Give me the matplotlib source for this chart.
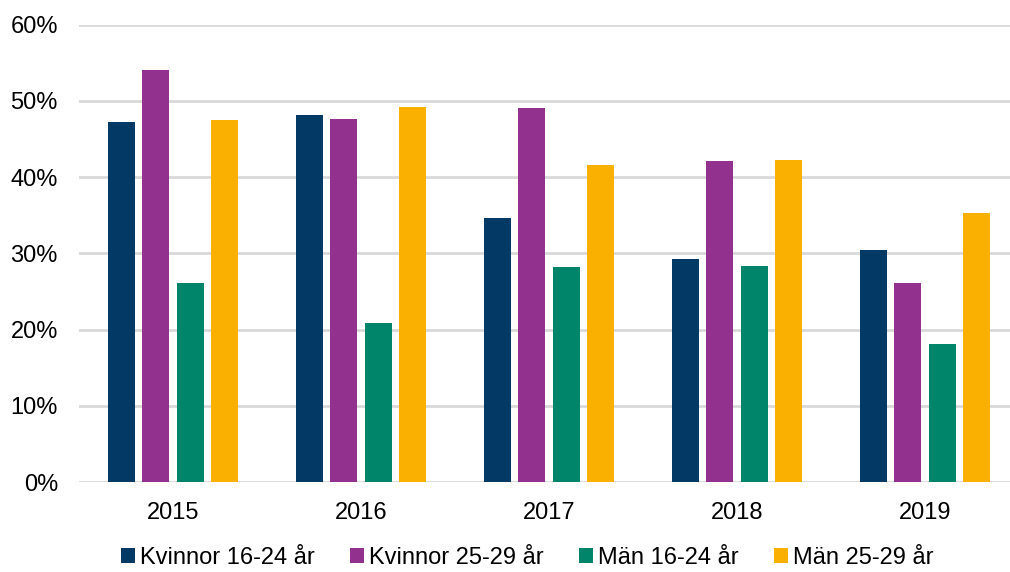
import numpy as np
from matplotlib import pyplot as plt
from matplotlib.ticker import PercentFormatter

plt.rcParams['font.family'] = ['Liberation Sans', 'DejaVu Sans']

years = ['2015', '2016', '2017', '2018', '2019']
series = ['Kvinnor 16-24 år', 'Kvinnor 25-29 år', 'Män 16-24 år', 'Män 25-29 år']
kvinnor_16_24 = [47.2, 48.1, 34.7, 29.3, 30.4]
kvinnor_25_29 = [54.0, 47.6, 49.0, 42.1, 26.1]
man_16_24 = [26.1, 20.9, 28.2, 28.3, 18.1]
man_25_29 = [47.5, 49.2, 41.6, 42.3, 35.3]
colors = ['#023a65', '#93328e', '#00856a', '#f9b000']

fig = plt.figure(figsize=(10.1, 5.72), dpi=100)
ax = fig.add_axes([0.078, 0.157, 0.922, 0.8])

x = np.arange(len(years))
pitch = 0.1835
width = 0.1436
for i, (vals, name) in enumerate(zip([kvinnor_16_24, kvinnor_25_29, man_16_24, man_25_29], series)):
    ax.bar(x + (i - 1.5) * pitch, np.array(vals) / 100, width, color=colors[i], label=name, zorder=3)

ax.set_ylim(0, 0.6)
ax.set_xlim(-0.5, 4.452)
ax.set_yticks(np.arange(0, 0.61, 0.1))
ax.yaxis.set_major_formatter(PercentFormatter(1.0, decimals=0))
ax.set_xticks(x)
ax.set_xticklabels(years)
ax.grid(axis='y', color='#d9d9d9', linewidth=2, zorder=0)
ax.tick_params(axis='both', length=0, labelsize=17, colors='black')
ax.tick_params(axis='y', pad=15)
ax.tick_params(axis='x', pad=14)
for s in ax.spines.values():
    s.set_visible(False)

fig.legend(loc='center', bbox_to_anchor=(0.522, 0.024), ncol=4, frameon=False,
           fontsize=17, handlelength=0.6, handleheight=0.6, handletextpad=0.2,
           columnspacing=1.5, borderpad=0)

plt.savefig('out.png', dpi=100)
